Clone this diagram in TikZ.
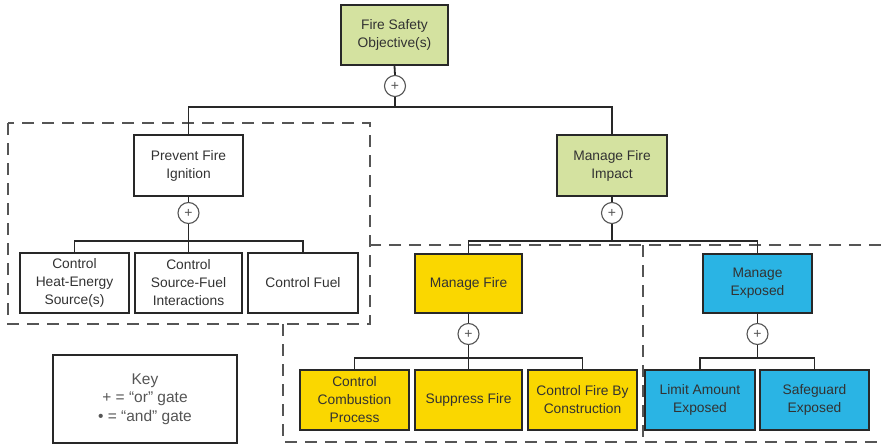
\documentclass[tikz,border=0pt]{standalone}
\usepackage{fontspec}
\setmainfont{Liberation Sans}
\begin{document}
\definecolor{objgreen}{RGB}{212,226,160}
\definecolor{firegold}{RGB}{250,215,0}
\definecolor{expblue}{RGB}{42,180,228}
\definecolor{inkdark}{RGB}{40,40,40}
\definecolor{textgray}{RGB}{50,50,50}
\definecolor{dashgray}{RGB}{85,85,85}
\begin{tikzpicture}[x=1pt,y=-1pt,
  goalbox/.style={draw=inkdark, line width=1.8pt, rectangle, align=center,
    minimum width=108pt, minimum height=60pt, inner sep=2pt,
    text=textgray, font=\fontsize{13.8}{18}\selectfont},
  orgate/.style={draw=dashgray, line width=1.1pt, circle, fill=white,
    minimum size=21pt, inner sep=0pt, text=dashgray,
    font=\fontsize{14}{14}\selectfont},
  link/.style={draw=inkdark, line width=1.8pt},
  region/.style={draw=dashgray, line width=1.8pt, dash pattern=on 12pt off 8pt}]
\useasboundingbox (0,0) rectangle (881,447);

% dashed groupings
\draw[region] (8,123) rectangle (370,324);
\draw[region] (881,245) -- (370,245);
\draw[region] (283,324) -- (283,442) -- (881,442);
\draw[region] (643,245) -- (643,442);

% goal tree boxes
\node[goalbox, fill=objgreen, minimum width=107pt] (top) at (394.5,35) {Fire Safety\\Objective(s)};
\node[goalbox, minimum width=109pt, minimum height=61pt] (pfi) at (188.5,165.5) {Prevent Fire\\Ignition};
\node[goalbox, fill=objgreen, minimum width=110pt, minimum height=61pt] (mfi) at (612,165.5) {Manage Fire\\Impact};

\node[goalbox, minimum width=109pt] (c1) at (74.5,283) {Control\\Heat-Energy\\Source(s)};
\node[goalbox, minimum width=107pt] (c2) at (188.5,283) {Control\\Source-Fuel\\Interactions};
\node[goalbox, minimum width=110pt] (c3) at (303,283) {Control Fuel};

\node[goalbox, fill=firegold, minimum width=107pt, minimum height=59pt] (mf) at (468.5,283.5) {Manage Fire};
\node[goalbox, fill=expblue, minimum width=109pt, minimum height=59pt] (me) at (757.5,283.5) {Manage\\Exposed};

\node[goalbox, fill=firegold, minimum width=109pt] (y1) at (354.5,400) {Control\\Combustion\\Process};
\node[goalbox, fill=firegold, minimum width=107pt] (y2) at (468.5,400) {Suppress Fire};
\node[goalbox, fill=firegold, minimum width=109pt] (y3) at (582.5,400) {Control Fire By\\Construction};

\node[goalbox, fill=expblue, minimum width=110pt] (e1) at (700,400) {Limit Amount\\Exposed};
\node[goalbox, fill=expblue, minimum width=109pt] (e2) at (814.5,400) {Safeguard\\Exposed};

% or gates
\node[orgate] (g0) at (395,86) {+};
\node[orgate] (g1) at (188.5,213) {+};
\node[orgate] (g2) at (612,213) {+};
\node[orgate] (g3) at (468.5,334) {+};
\node[orgate] (g4) at (757.5,334) {+};

% bus junctions
\coordinate (j0) at (395,107);
\coordinate (j1) at (188.5,241);
\coordinate (j2) at (612,241);
\coordinate (j3) at (468.5,358);
\coordinate (j4) at (757.5,358);

% connectors
\draw[link] (top.south) -- (g0.north);
\draw[link] (g0.south) -- (j0);
\draw[link] (pfi.north) |- (j0) -| (mfi.north);

\draw[link] (pfi.south) -- (g1.north);
\draw[link] (g1.south) -- (c2.north);
\draw[link] (c1.north) |- (j1) -| (c3.north);

\draw[link] (mfi.south) -- (g2.north);
\draw[link] (g2.south) -- (j2);
\draw[link] (mf.north) |- (j2) -| (me.north);

\draw[link] (mf.south) -- (g3.north);
\draw[link] (g3.south) -- (y2.north);
\draw[link] (y1.north) |- (j3) -| (y3.north);

\draw[link] (me.south) -- (g4.north);
\draw[link] (g4.south) -- (j4);
\draw[link] (e1.north) |- (j4) -| (e2.north);

% key
\node[draw=inkdark, line width=1.8pt, minimum width=184pt, minimum height=88pt,
  align=center, text=dashgray, font=\fontsize{15.5}{18.5}\selectfont] (key) at (145,399)
  {Key\\+ = “or” gate\\• = “and” gate};
\end{tikzpicture}
\end{document}
